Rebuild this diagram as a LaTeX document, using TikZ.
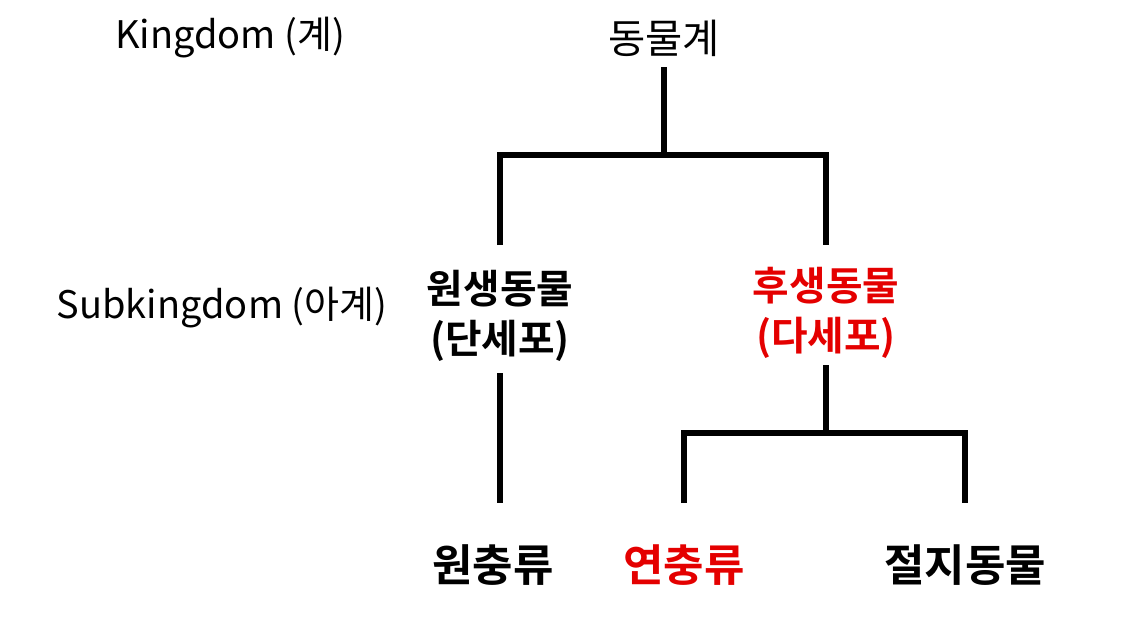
\documentclass[tikz,border=0pt]{standalone}
\usepackage{fontspec}
\setmainfont{Noto Sans CJK KR}[BoldFont={Noto Sans CJK KR Bold}]
\definecolor{redtxt}{RGB}{228,0,0}
\begin{document}
\begin{tikzpicture}[x=0.01cm,y=-0.01cm,
  lbl/.style={inner sep=0pt,font=\fontsize{11.5pt}{13pt}\selectfont},
  side/.style={inner sep=0pt,font=\fontsize{10.8pt}{13pt}\selectfont},
  mid/.style={inner sep=0pt,align=center,font=\fontsize{11.3pt}{14.2pt}\selectfont\bfseries},
  leaf/.style={inner sep=0pt,font=\fontsize{12.5pt}{15pt}\selectfont\bfseries},
  tree/.style={line width=1.45pt,line join=miter,line cap=butt}]
\useasboundingbox (0,0) rectangle (1131,639);
% labels
\node[side] (kl) at (230,38) {Kingdom (계)};
\node[side] (sl) at (222,308) {Subkingdom (아계)};
% nodes
\node[lbl] (root) at (664,38) {동물계};
\node[mid] (proto) at (500,316) {원생동물\\(단세포)};
\node[mid,text=redtxt] (meta) at (826,313) {후생동물\\(다세포)};
\node[leaf] (c1) at (493,565) {원충류};
\node[leaf,text=redtxt] (c2) at (684,565) {연충류};
\node[leaf] (c3) at (965,565) {절지동물};
% junction coordinates
\coordinate (r0) at (664,67);
\coordinate (j1) at (664,155);
\coordinate (pl) at (500,245);
\coordinate (ml) at (826,245);
\coordinate (p0) at (500,373);
\coordinate (p1) at (500,503);
\coordinate (m0) at (826,365);
\coordinate (j2) at (826,433);
\coordinate (c2t) at (684,503);
\coordinate (c3t) at (965,503);
% connectors
\draw[tree] (r0) -- (j1);
\draw[tree] (pl) |- (j1) -| (ml);
\draw[tree] (p0) -- (p1);
\draw[tree] (m0) -- (j2);
\draw[tree] (c2t) |- (j2) -| (c3t);
\end{tikzpicture}
\end{document}
